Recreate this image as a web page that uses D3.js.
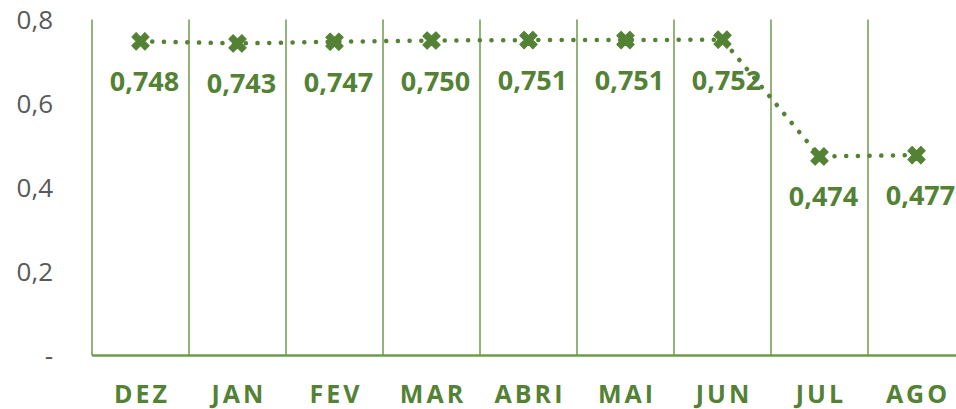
<!DOCTYPE html>
<html>
<head>
<meta charset="utf-8">
<script src="https://cdn.jsdelivr.net/npm/d3@7"></script>
<style>
  body { margin: 0; background: #fff; }
  svg { display: block; }
</style>
</head>
<body>
<div id="chart"></div>
<script>
// data
const months = ["DEZ", "JAN", "FEV", "MAR", "ABRI", "MAI", "JUN", "JUL", "AGO"]
const values = [0.748, 0.743, 0.747, 0.750, 0.751, 0.751, 0.752, 0.474, 0.477]
const yTicks = [0, 0.2, 0.4, 0.6, 0.8]

const width = 956, height = 409
const margin = { top: 19.5, left: 92, bottom: 53.5 }
const green = "#548235"
const gridGreen = "#6f9a4c"
const font = "'Open Sans', 'Noto Sans', sans-serif"

const svg = d3.select("#chart").append("svg")
    .attr("width", width)
    .attr("height", height)

const x = d3.scaleBand().domain(months).range([margin.left, margin.left + months.length * 97])
const y = d3.scaleLinear().domain([0, 0.8]).range([height - margin.bottom, margin.top])

// vertical category separators
const bounds = months.map(m => x(m))
svg.append("g").selectAll("line").data(bounds).enter().append("line")
    .attr("x1", d => d).attr("x2", d => d)
    .attr("y1", y(0.8)).attr("y2", y(0))
    .attr("stroke", gridGreen)
    .attr("stroke-width", 1.5)

// baseline
svg.append("line")
    .attr("x1", margin.left).attr("x2", width)
    .attr("y1", y(0)).attr("y2", y(0))
    .attr("stroke", gridGreen)
    .attr("stroke-width", 2.5)

// y tick labels
svg.append("g").selectAll("text").data(yTicks).enter().append("text")
    .attr("x", 53)
    .attr("y", d => y(d))
    .attr("dy", "0.35em")
    .attr("text-anchor", "end")
    .style("font-family", font)
    .style("font-size", "26px")
    .style("fill", "#595959")
    .text(d => d === 0 ? "-" : d3.format(".1f")(d).replace(".", ","))

// x labels
svg.append("g").selectAll("text").data(months).enter().append("text")
    .attr("x", d => x(d) + x.bandwidth() / 2 + 1.5)
    .attr("y", 403)
    .attr("text-anchor", "middle")
    .style("font-family", font)
    .style("font-weight", "bold")
    .style("font-size", "25px")
    .style("letter-spacing", "3px")
    .style("fill", green)
    .text(d => d)

const pts = months.map((m, i) => ({ m: m, v: values[i] }))

// dotted line
const line = d3.line()
    .x(d => x(d.m) + x.bandwidth() / 2)
    .y(d => y(d.v))

svg.append("path")
    .attr("d", line(pts))
    .attr("fill", "none")
    .attr("stroke", green)
    .attr("stroke-width", 4.5)
    .attr("stroke-linecap", "round")
    .attr("stroke-dasharray", "0.1 11.6")

// x markers
const marker = d3.symbol().type(d3.symbolCross).size(190)
svg.append("g").selectAll("path").data(pts).enter().append("path")
    .attr("d", marker)
    .attr("transform", d => "translate(" + (x(d.m) + x.bandwidth() / 2) + "," + y(d.v) + ") rotate(45)")
    .attr("fill", green)
    .attr("stroke", green)
    .attr("stroke-width", 1)
    .attr("stroke-linejoin", "round")

// data labels below the points
svg.append("g").selectAll("text").data(pts).enter().append("text")
    .attr("x", d => x(d.m) + x.bandwidth() / 2 + 4)
    .attr("y", d => y(d.v) + 50)
    .attr("text-anchor", "middle")
    .style("font-family", font)
    .style("font-weight", "bold")
    .style("font-size", "27px")
    .style("fill", green)
    .text(d => d3.format(".3f")(d.v).replace(".", ","))
</script>
</body>
</html>
